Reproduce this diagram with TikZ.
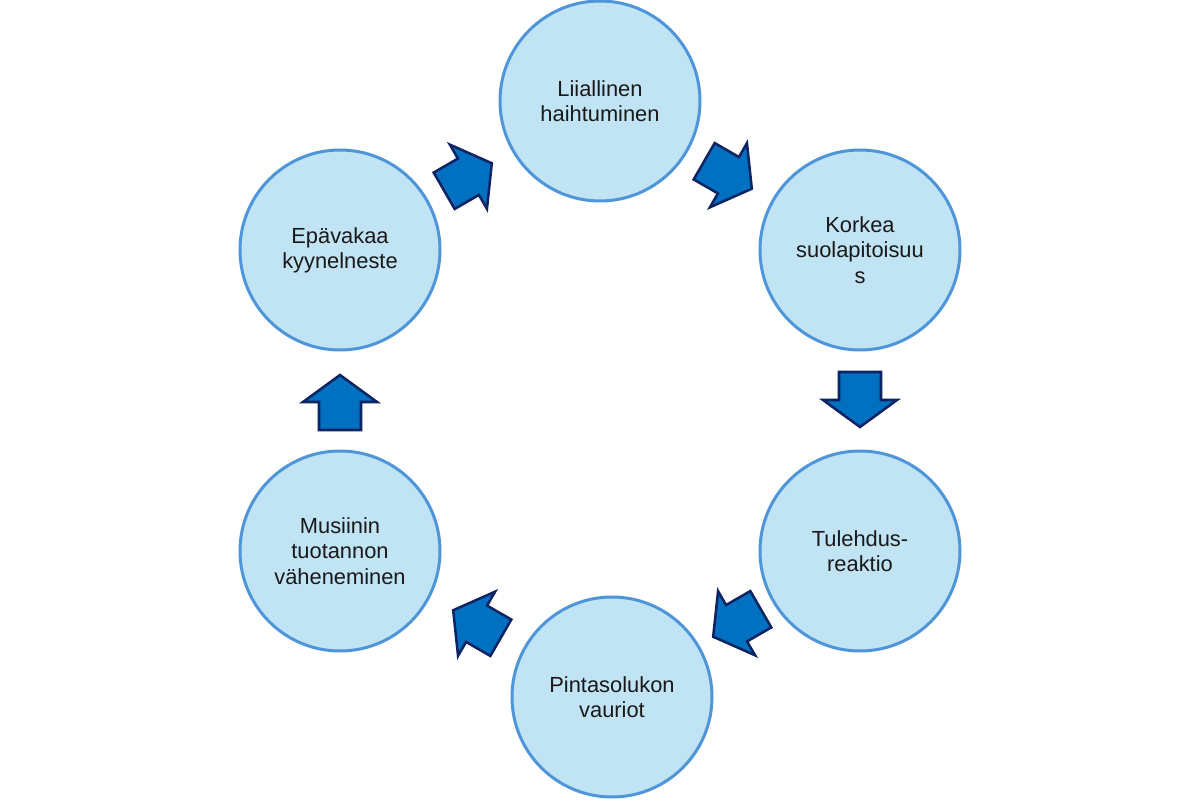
\documentclass[tikz,border=0pt]{standalone}
\usepackage{fontspec}
\setmainfont{Liberation Sans}

\definecolor{circfill}{RGB}{193,228,245}
\definecolor{circline}{RGB}{78,149,217}
\definecolor{arrfill}{RGB}{0,112,192}
\definecolor{arrline}{RGB}{12,35,100}

\tikzset{
  stage/.style={circle, draw=circline, fill=circfill, line width=2.25pt,
    minimum size=150pt, inner sep=0pt, align=center,
    font=\fontsize{16.4}{18.9}\selectfont, text=black!90},
  blockarr/.style={draw=arrline, fill=arrfill, line width=1.9pt, line join=miter}
}

% block arrow: centre x, centre y, direction
\def\cyclearrow#1#2#3{
   \begin{scope}[shift={(#1,#2)}, rotate=#3]
     \draw[blockarr] (-27.5,-21) -- (0.5,-21) -- (0.5,-37) -- (27.5,0)
        -- (0.5,37) -- (0.5,21) -- (-27.5,21) -- cycle;
   \end{scope}
}

\begin{document}
\begin{tikzpicture}[x=0.75pt, y=0.75pt]
   \useasboundingbox (0,0) rectangle (1200,801);
   % the six stages of the cycle
   \node[stage] (haiht) at (600,700) {Liiallinen\\haihtuminen};
   \node[stage] (suola) at (860,551) {Korkea\\suolapitoisuu\\s};
   \node[stage] (tuleh) at (860,250) {Tulehdus-\\reaktio};
   \node[stage] (pinta) at (612,104) {Pintasolukon\\vauriot};
   \node[stage] (musii) at (340,250) {Musiinin\\tuotannon\\väheneminen};
   \node[stage] (epava) at (340,551) {Epävakaa\\kyynelneste};
   % arrows between stages
   \cyclearrow{468}{624}{30}
   \cyclearrow{728}{626}{-30}
   \cyclearrow{860}{401.5}{-90}
   \cyclearrow{737}{178}{210}
   \cyclearrow{477}{177}{150}
   \cyclearrow{340}{398.5}{90}
\end{tikzpicture}
\end{document}
